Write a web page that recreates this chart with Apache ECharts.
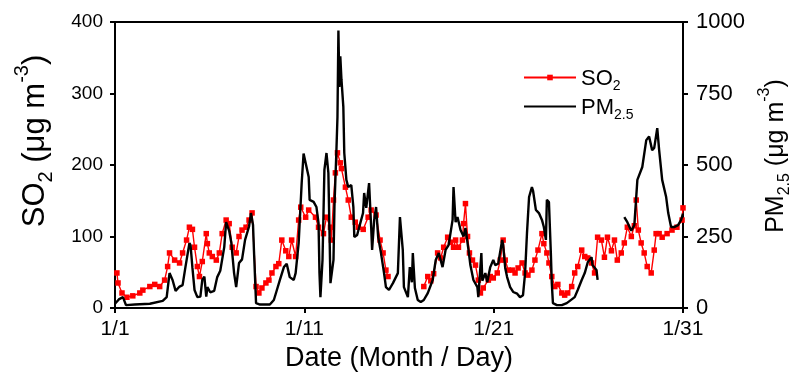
<!DOCTYPE html>
<html>
<head>
<meta charset="utf-8">
<script src="https://cdn.jsdelivr.net/npm/echarts@6/dist/echarts.min.js"></script>
<style>
  html, body { margin: 0; padding: 0; background: #fff; }
  #chart { width: 801px; height: 381px; }
</style>
</head>
<body>
<div id="chart"></div>
<script>
// x = days since 1/1 (0..30)
const dateLabels = ['1/1', '1/11', '1/21', '1/31'];

// SO2 (ug m-3), [day, value]; null = missing data
const so2Points = [
  [0.1, 49], [0.16, 35], [0.37, 21], [0.63, 15], [0.94, 17], [1.31, 21], [1.47, 25], [1.84, 30],
  [2.1, 33], [2.36, 30], [2.62, 39], [2.78, 58], [2.88, 77], [3.15, 67], [3.41, 63], [3.57, 77],
  [3.78, 95], [3.93, 113], [4.09, 110], [4.2, 85], [4.35, 58], [4.46, 44], [4.61, 65], [4.82, 104],
  [4.88, 90], [4.98, 77], [5.14, 72], [5.35, 67], [5.51, 77], [5.66, 104], [5.87, 123], [6.03, 118],
  [6.19, 85], [6.4, 77], [6.55, 100], [6.71, 109], [6.92, 113], [7.08, 123], [7.24, 133], [7.45, 30],
  [7.6, 21], [7.76, 28], [7.97, 35], [8.13, 39], [8.29, 49], [8.5, 58], [8.65, 62], [8.81, 95],
  [9.02, 80], [9.18, 72], [9.33, 95], [9.54, 72], [9.7, 123], [9.81, 141], [10.07, 127], [10.23, 137],
  [10.59, 127], [10.75, 113], [11.01, 104], [11.17, 127], [11.38, 113], [11.43, 95], [11.54, 151],
  [11.64, 189], [11.75, 217], [11.9, 203], [11.96, 195], [12.17, 169], [12.32, 151], [12.48, 127],
  [12.69, 120], [12.85, 113], [13.11, 110], [13.37, 127], [13.53, 137], [13.79, 130], [14.0, 95],
  [14.16, 77], [14.31, 53], [14.42, 44], [15.3, null],
  [16.31, 30], [16.52, 44], [16.68, 38], [16.83, 48], [17.04, 77], [17.2, 70], [17.36, 85],
  [17.57, 99], [17.72, 92], [17.88, 85], [17.99, 95], [18.14, 85], [18.35, 95], [18.41, 118],
  [18.51, 146], [18.62, 100], [18.72, 77], [18.88, 67], [19.04, 60], [19.19, 39], [19.3, 21],
  [19.45, 28], [19.72, 39], [19.82, 44], [19.98, 42], [20.19, 49], [20.35, 67], [20.5, 95],
  [20.61, 67], [20.77, 53], [20.98, 53], [21.13, 49], [21.29, 56], [21.5, 63], [21.66, 49],
  [21.81, 46], [22.02, 53], [22.18, 67], [22.34, 81], [22.55, 104], [22.65, 90], [22.81, 77],
  [22.92, 63], [23.07, 44], [23.23, 30], [23.39, 33], [23.6, 21], [23.75, 18], [23.91, 21],
  [24.12, 30], [24.28, 49], [24.44, 58], [24.65, 81], [24.81, 72], [24.97, 70], [25.17, 63],
  [25.33, 49], [25.49, 99], [25.69, 95], [25.85, 71], [26.01, 99], [26.22, 80], [26.38, 95],
  [26.53, 67], [26.74, 77], [26.9, 91], [27.06, 113], [27.27, 100], [27.43, 115], [27.53, 151],
  [27.64, 109], [27.79, 91], [27.95, 77], [28.11, 58], [28.32, 49], [28.48, 81], [28.58, 104],
  [28.74, 104], [28.9, 99], [29.16, 104], [29.42, 109], [29.68, 113], [29.95, 123], [30.0, 140]
];

// PM2.5 (ug m-3), [day, value]; null = missing data
const pmPoints = [
  [0.0, 15], [0.2, 30], [0.42, 38], [0.58, 10], [1.05, 12], [1.84, 15], [2.52, 25], [2.73, 38],
  [2.88, 122], [3.04, 98], [3.2, 60], [3.41, 75], [3.57, 80], [3.72, 143], [3.93, 227], [3.99, 220],
  [4.09, 140], [4.2, 63], [4.35, 38], [4.51, 40], [4.61, 98], [4.72, 110], [4.82, 40], [4.88, 73],
  [5.03, 55], [5.24, 60], [5.4, 108], [5.56, 130], [5.77, 213], [5.87, 300], [6.03, 270], [6.14, 230],
  [6.29, 122], [6.4, 73], [6.55, 157], [6.71, 170], [6.87, 238], [7.08, 285], [7.18, 332], [7.29, 290],
  [7.34, 200], [7.45, 17], [7.66, 12], [8.18, 12], [8.39, 28], [8.55, 63], [8.71, 98], [8.92, 143],
  [9.07, 155], [9.23, 108], [9.44, 98], [9.54, 122], [9.7, 227], [9.86, 437], [9.96, 540],
  [10.02, 545], [10.23, 458], [10.28, 378], [10.49, 371], [10.64, 353], [10.75, 297], [10.8, 122],
  [10.85, 38], [10.96, 168], [11.06, 483], [11.17, 542], [11.27, 472], [11.33, 262], [11.38, 87],
  [11.54, 168], [11.59, 353], [11.69, 542], [11.75, 668], [11.8, 970], [11.85, 773], [11.9, 880],
  [11.96, 800], [12.06, 703], [12.11, 542], [12.22, 448], [12.32, 423], [12.48, 430], [12.59, 353],
  [12.64, 248], [12.79, 255], [12.9, 283], [13.1, 332], [13.16, 402], [13.27, 350], [13.42, 437],
  [13.53, 283], [13.58, 203], [13.69, 308], [13.79, 353], [13.9, 248], [14.05, 192], [14.21, 122],
  [14.31, 73], [14.47, 63], [14.68, 87], [14.94, 122], [15.05, 318], [15.2, 203], [15.26, 73],
  [15.47, 38], [15.57, 143], [15.68, 90], [15.73, 192], [15.84, 70], [15.99, 28], [16.15, 21],
  [16.31, 28], [16.52, 52], [16.78, 98], [16.94, 168], [17.1, 192], [17.3, 143], [17.46, 203],
  [17.62, 220], [17.83, 308], [17.88, 423], [17.99, 300], [18.09, 318], [18.25, 273], [18.41, 250],
  [18.51, 280], [18.67, 203], [18.77, 150], [18.93, 98], [19.14, 73], [19.19, 38], [19.35, 192],
  [19.4, 95], [19.56, 122], [19.66, 90], [19.82, 143], [19.98, 168], [20.08, 150], [20.24, 155],
  [20.45, 238], [20.5, 220], [20.61, 140], [20.71, 108], [20.87, 73], [21.03, 56], [21.24, 50],
  [21.39, 38], [21.55, 45], [21.66, 122], [21.76, 262], [21.87, 388], [22.02, 423], [22.08, 410],
  [22.23, 343], [22.39, 332], [22.55, 308], [22.65, 283], [22.76, 238], [22.81, 378], [22.92, 370],
  [23.02, 192], [23.07, 87], [23.13, 17], [23.34, 10], [23.6, 10], [23.86, 17], [24.02, 25],
  [24.28, 38], [24.44, 63], [24.65, 98], [24.81, 122], [24.97, 160], [25.17, 178], [25.22, 150],
  [25.43, 133], [25.49, 98], [26.2, null],
  [26.9, 318], [27.06, 300], [27.27, 270], [27.43, 290], [27.59, 448], [27.85, 493], [28.06, 587],
  [28.21, 600], [28.37, 552], [28.48, 560], [28.64, 629], [28.74, 552], [28.9, 448], [29.11, 388],
  [29.22, 332], [29.37, 283], [29.53, 283], [29.74, 290], [29.9, 308], [30.0, 330]
];

const font = 'Liberation Sans, Arial, sans-serif';

// rich styles for names with sub/superscripts
function unitRich(size) {
  const small = Math.round(size * 0.65);
  const lh = Math.round(size * 1.15);
  return {
    m: { fontFamily: font, fontSize: size, color: '#000', lineHeight: lh, verticalAlign: 'bottom' },
    sub: { fontFamily: font, fontSize: small, color: '#000', lineHeight: lh, verticalAlign: 'bottom', padding: [0, 0, -Math.round(size * 0.15), 0] },
    sup: { fontFamily: font, fontSize: small, color: '#000', lineHeight: lh, verticalAlign: 'top', padding: [-Math.round(size * 0.1), 0, 0, 0] }
  };
}
const axisLine = { show: true, lineStyle: { color: '#000', width: 2 } };
const axisTick = { show: true, inside: false, length: 5, lineStyle: { color: '#000', width: 2 } };

const chart = echarts.init(document.getElementById('chart'));
chart.setOption({
  backgroundColor: '#fff',
  animation: false,
  grid: {
    left: 115, right: 114, top: 22, bottom: 73,
    show: true, borderColor: '#000', borderWidth: 2, backgroundColor: 'transparent'
  },
  legend: {
    orient: 'vertical',
    left: 523,
    top: 68,
    padding: 0,
    itemWidth: 52,
    itemHeight: 7,
    itemGap: 4,
    data: [
      { name: 'SO2' },
      { name: 'PM2.5', itemStyle: { opacity: 0 } }
    ],
    formatter: (name) => name === 'SO2' ? '{m|SO}{sub|2}' : '{m|PM}{sub|2.5}',
    textStyle: { rich: unitRich(22) }
  },
  xAxis: {
    type: 'value',
    min: 0,
    max: 30,
    interval: 10,
    splitLine: { show: false },
    axisLine,
    axisTick,
    axisLabel: {
      color: '#000', fontFamily: font, fontSize: 21,
      margin: 11,
      formatter: (v) => dateLabels[Math.round(v / 10)]
    },
    name: 'Date (Month / Day)',
    nameLocation: 'middle',
    nameGap: 36,
    nameTextStyle: { color: '#000', fontFamily: font, fontSize: 27 }
  },
  yAxis: [
    {
      type: 'value',
      min: 0,
      max: 400,
      interval: 100,
      splitLine: { show: false },
      axisLine,
      axisTick,
      axisLabel: { color: '#000', fontFamily: font, fontSize: 19, margin: 12 },
      name: '{m|SO}{sub|2}{m| (μg m}{sup|-3}{m|)}',
      nameLocation: 'middle',
      nameRotate: 90,
      nameGap: 64,
      nameTextStyle: { rich: unitRich(31), padding: [0, 0, 0, 48] }
    },
    {
      type: 'value',
      position: 'right',
      min: 0,
      max: 1000,
      interval: 250,
      splitLine: { show: false },
      axisLine,
      axisTick,
      axisLabel: { color: '#000', fontFamily: font, fontSize: 22, margin: 13, formatter: (v) => String(v) },
      name: '{m|PM}{sub|2.5}{m| (μg m}{sup|-3}{m|)}',
      nameLocation: 'middle',
      nameRotate: 90,
      nameGap: 77,
      nameTextStyle: { rich: unitRich(25), padding: [0, 0, 0, 18] }
    }
  ],
  series: [
    {
      name: 'SO2',
      type: 'line',
      yAxisIndex: 0,
      data: so2Points,
      symbol: 'rect',
      symbolSize: 5.5,
      showAllSymbol: true,
      connectNulls: false,
      lineStyle: { color: '#ff0000', width: 1.4 },
      itemStyle: { color: '#ff0000' },
      z: 2
    },
    {
      name: 'PM2.5',
      type: 'line',
      yAxisIndex: 1,
      data: pmPoints,
      showSymbol: false,
      connectNulls: false,
      lineStyle: { color: '#000', width: 2.4 },
      itemStyle: { color: '#000' },
      z: 3
    }
  ]
});
</script>
</body>
</html>
